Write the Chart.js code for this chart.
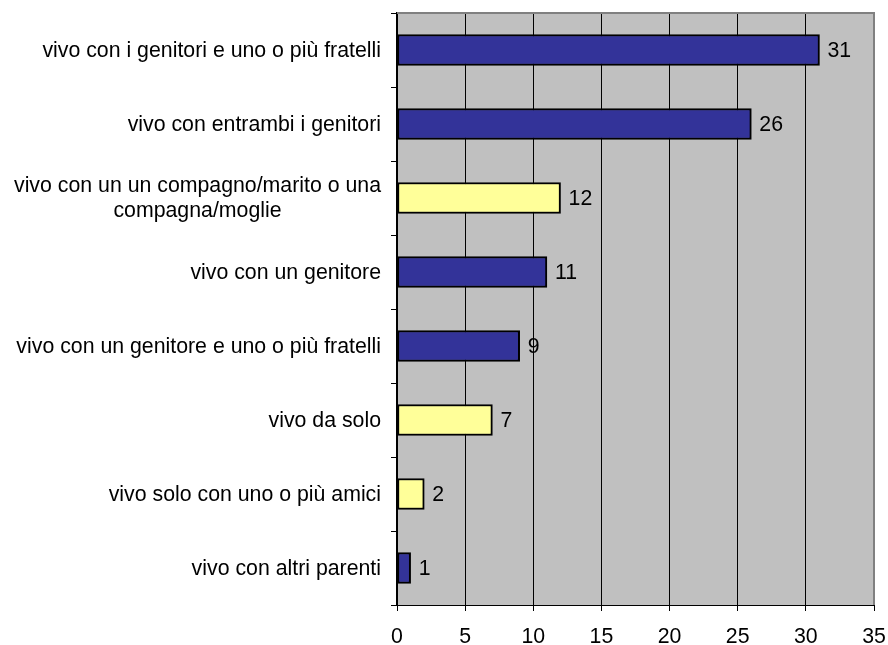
<!DOCTYPE html>
<html>
<head>
<meta charset="utf-8">
<script src="https://cdn.jsdelivr.net/npm/chart.js@4/dist/chart.umd.min.js"></script>
<style>
html,body{margin:0;padding:0;background:#fff;}
#wrap{width:888px;height:645px;position:relative;}
</style>
</head>
<body>
<div id="wrap"><canvas id="c" width="888" height="645"></canvas></div>
<script>
const categories = [
  'vivo con i genitori e uno o più fratelli',
  'vivo con entrambi i genitori',
  ['vivo con un un compagno/marito o una', 'compagna/moglie'],
  'vivo con un genitore',
  'vivo con un genitore e uno o più fratelli',
  'vivo da solo',
  'vivo solo con uno o più amici',
  'vivo con altri parenti'
];
const values = [31, 26, 12, 11, 9, 7, 2, 1];
const groups = ['famiglia', 'famiglia', 'altro', 'famiglia', 'famiglia', 'altro', 'altro', 'famiglia'];
const xTicks = [0, 5, 10, 15, 20, 25, 30, 35];

const colorFor = g => g === 'famiglia' ? '#333399' : '#FFFF99';
const FONT = '"Liberation Sans", Arial, sans-serif';
const FS = 21.3;

const plotBg = {
  id: 'plotBg',
  beforeDraw(chart) {
    const {ctx, chartArea: a} = chart;
    ctx.save();
    ctx.fillStyle = '#C0C0C0';
    ctx.fillRect(a.left, a.top, a.right - a.left, a.bottom - a.top);
    ctx.restore();
  },
  beforeDatasetsDraw(chart) {
    const {ctx, chartArea: a} = chart;
    ctx.save();
    ctx.strokeStyle = '#808080';
    ctx.lineWidth = 2;
    ctx.beginPath();
    ctx.moveTo(a.left, a.top);
    ctx.lineTo(a.right, a.top);
    ctx.lineTo(a.right, a.bottom);
    ctx.stroke();
    ctx.restore();
  }
};

// category labels: block right-aligned to the axis, lines centred within the block
const catLabels = {
  id: 'catLabels',
  afterDraw(chart) {
    const {ctx} = chart;
    const ys = chart.scales.y;
    const right = ys.right - 16;
    ctx.save();
    ctx.font = FS + 'px ' + FONT;
    ctx.fillStyle = '#000';
    ctx.textAlign = 'center';
    ctx.textBaseline = 'middle';
    const lh = 25;
    categories.forEach((lab, i) => {
      const lines = Array.isArray(lab) ? lab : [lab];
      const w = Math.max(...lines.map(l => ctx.measureText(l).width));
      const cx = right - w / 2;
      const yc = ys.getPixelForTick(i);
      const y0 = yc - (lines.length - 1) * lh / 2;
      lines.forEach((l, k) => ctx.fillText(l, cx, y0 + k * lh + 1));
    });
    ctx.restore();
  }
};

const valueLabels = {
  id: 'valueLabels',
  afterDatasetsDraw(chart) {
    const {ctx} = chart;
    const meta = chart.getDatasetMeta(0);
    ctx.save();
    ctx.font = FS + 'px ' + FONT;
    ctx.fillStyle = '#000';
    ctx.textAlign = 'left';
    ctx.textBaseline = 'middle';
    meta.data.forEach((bar, i) => {
      ctx.fillText(String(values[i]), bar.x + 8, bar.y + 1);
    });
    ctx.restore();
  }
};

new Chart(document.getElementById('c'), {
  type: 'bar',
  data: {
    labels: categories,
    datasets: [{
      data: values,
      backgroundColor: groups.map(colorFor),
      borderColor: '#000',
      borderWidth: 2,
      borderSkipped: false,
      barThickness: 31
    }]
  },
  options: {
    indexAxis: 'y',
    responsive: false,
    animation: false,
    devicePixelRatio: 1,
    layout: {padding: {top: 13, right: 14, bottom: 0, left: 0}},
    plugins: {legend: {display: false}, tooltip: {enabled: false}},
    scales: {
      x: {
        min: 0, max: 35,
        afterBuildTicks(scale) { scale.ticks = xTicks.map(v => ({value: v})); },
        afterFit(scale) { scale.height = 40; scale.paddingLeft = 0; scale.paddingRight = 0; },
        grid: {color: '#000', lineWidth: 1, drawTicks: true, tickLength: 6, tickColor: '#000'},
        border: {display: true, color: '#000', width: 1},
        ticks: {font: {family: FONT, size: FS}, color: '#000', padding: 13, maxRotation: 0}
      },
      y: {
        afterFit(scale) { scale.width = 397; scale.paddingTop = 0; scale.paddingBottom = 0; },
        grid: {display: true, drawOnChartArea: false, offset: true, drawTicks: true, tickLength: 6, color: '#000', tickColor: '#000'},
        border: {display: true, color: '#000', width: 2},
        ticks: {display: false}
      }
    }
  },
  plugins: [plotBg, catLabels, valueLabels]
});
</script>
</body>
</html>
